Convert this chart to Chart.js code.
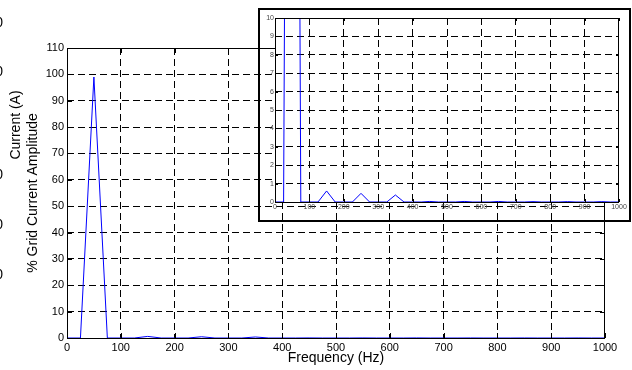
<!DOCTYPE html>
<html>
<head>
<meta charset="utf-8">
<script src="https://cdn.jsdelivr.net/npm/chart.js@4.4.0/dist/chart.umd.min.js"></script>
<style>
  body { margin: 0; background: #fff; }
  #wrap { position: relative; width: 632px; height: 370px; }
  #main { position: absolute; left: 0; top: 0; }
  #zoom { position: absolute; left: 258px; top: 8px; }
</style>
</head>
<body>
<div id="wrap">
  <canvas id="main" width="632" height="370"></canvas>
  <canvas id="zoom" width="373" height="214"></canvas>
</div>
<script>
// données du spectre (Hz / % du courant réseau)
const frequences = [
  0, 25, 50, 75, 100, 125, 150, 175, 200, 225,
  250, 275, 300, 325, 350, 375, 400, 425, 450, 475,
  500, 525, 550, 575, 600, 625, 650, 675, 700, 725,
  750, 775, 800, 825, 850, 875, 900, 925, 950, 975, 1000
];
const amplitudes = [
  0, 0, 99, 0, 0, 0, 0.6, 0, 0, 0,
  0.47, 0, 0, 0, 0.38, 0, 0, 0, 0.03, 0,
  0, 0, 0.03, 0, 0, 0, 0.03, 0, 0, 0,
  0.02, 0, 0, 0, 0.02, 0, 0, 0, 0.02, 0, 0
];
const ticksX = [0, 100, 200, 300, 400, 500, 600, 700, 800, 900, 1000];
const ticksY = [0, 10, 20, 30, 40, 50, 60, 70, 80, 90, 100, 110];
const ticksYZoom = [0, 1, 2, 3, 4, 5, 6, 7, 8, 9, 10];

// restes de la figure de derrière (coupés à gauche)
const titreCache = 'Current (A)';
const zerosCaches = [23, 72, 175, 225, 275];

const police = 'Liberation Sans, Arial, sans-serif';
Chart.defaults.font.family = police;
Chart.defaults.color = '#000';
Chart.defaults.animation = false;

const points = frequences.map((f, i) => ({ x: f, y: amplitudes[i] }));

function gridColor(min, max) {
  return ctx => (ctx.tick.value === min || ctx.tick.value === max) ? 'rgba(0,0,0,0)' : '#000';
}

// cadre + petites graduations vers l'intérieur, style matlab
function cadre(tickLen, fond) {
  return {
    id: 'cadre',
    beforeDraw(chart) {
      if (!fond) return;
      const a = chart.chartArea, c = chart.ctx;
      c.save();
      c.fillStyle = '#fff';
      c.fillRect(a.left, a.top, a.right - a.left, a.bottom - a.top);
      c.restore();
    },
    afterDraw(chart) {
      const a = chart.chartArea, c = chart.ctx;
      const sx = chart.scales.x, sy = chart.scales.y;
      c.save();
      c.strokeStyle = '#000';
      c.lineWidth = 1;
      c.strokeRect(a.left + 0.5, a.top + 0.5, a.right - a.left - 1, a.bottom - a.top);
      c.beginPath();
      sx.ticks.forEach(t => {
        const x = Math.round(sx.getPixelForValue(t.value)) + 0.5;
        c.moveTo(x, a.bottom); c.lineTo(x, a.bottom - tickLen);
        c.moveTo(x, a.top); c.lineTo(x, a.top + tickLen);
      });
      sy.ticks.forEach(t => {
        const y = Math.round(sy.getPixelForValue(t.value)) + 0.5;
        c.moveTo(a.left, y); c.lineTo(a.left + tickLen, y);
        c.moveTo(a.right, y); c.lineTo(a.right - tickLen, y);
      });
      c.stroke();
      c.restore();
    }
  };
}

const restes = {
  id: 'restes',
  afterDraw(chart) {
    const c = chart.ctx;
    c.save();
    c.fillStyle = '#000';
    c.font = '14px ' + police;
    c.textAlign = 'right';
    c.textBaseline = 'middle';
    zerosCaches.forEach(y => c.fillText('0', 3, y));
    c.translate(16, 125);
    c.rotate(-Math.PI / 2);
    c.textAlign = 'center';
    c.fillText(titreCache, 0, 0);
    c.restore();
  }
};

const simple = v => String(v);

// Graphique principal
new Chart(document.getElementById('main'), {
  type: 'line',
  data: {
    datasets: [{
      data: points,
      borderColor: '#0000ff',
      borderWidth: 1,
      pointRadius: 0,
      tension: 0
    }]
  },
  options: {
    responsive: false,
    devicePixelRatio: 1,
    layout: { padding: { left: 24, right: 27, top: 48, bottom: 0 } },
    plugins: { legend: { display: false }, tooltip: { enabled: false } },
    scales: {
      x: {
        type: 'linear', min: 0, max: 1000,
        afterBuildTicks: s => { s.ticks = ticksX.map(v => ({ value: v })); },
        afterFit: s => { s.height = 32; },
        border: { display: false, dash: [7, 4] },
        grid: { color: gridColor(0, 1000), lineWidth: 1, tickLength: 0 },
        ticks: { font: { size: 11 }, padding: 3, maxRotation: 0, autoSkip: false, callback: simple },
        title: { display: true, text: 'Frequency (Hz)', font: { size: 14 }, padding: { top: 0, bottom: 3 } }
      },
      y: {
        type: 'linear', min: 0, max: 110,
        afterBuildTicks: s => { s.ticks = ticksY.map(v => ({ value: v })); },
        afterFit: s => { s.width = 43; },
        border: { display: false, dash: [7, 4] },
        grid: { color: gridColor(0, 110), lineWidth: 1, tickLength: 0 },
        ticks: { font: { size: 11 }, padding: 3, autoSkip: false, callback: simple },
        title: { display: true, text: '% Grid Current Amplitude', font: { size: 14 }, padding: { top: 1, bottom: 0 } }
      }
    }
  },
  plugins: [cadre(5, false), restes]
});

// Zoom sur les harmoniques
new Chart(document.getElementById('zoom'), {
  type: 'line',
  data: {
    datasets: [{
      data: points,
      borderColor: '#0000ff',
      borderWidth: 1,
      pointRadius: 0,
      tension: 0
    }]
  },
  options: {
    responsive: false,
    devicePixelRatio: 1,
    layout: { padding: { left: 0, right: 12, top: 10, bottom: 0 } },
    plugins: { legend: { display: false }, tooltip: { enabled: false } },
    scales: {
      x: {
        type: 'linear', min: 0, max: 1000,
        afterBuildTicks: s => { s.ticks = ticksX.map(v => ({ value: v })); },
        afterFit: s => { s.height = 20; },
        border: { display: false, dash: [7, 4] },
        grid: { color: gridColor(0, 1000), lineWidth: 1, tickLength: 0 },
        ticks: { font: { size: 7 }, color: '#444', padding: 1, maxRotation: 0, autoSkip: false, callback: simple }
      },
      y: {
        type: 'linear', min: 0, max: 10,
        afterBuildTicks: s => { s.ticks = ticksYZoom.map(v => ({ value: v })); },
        afterFit: s => { s.width = 17; },
        border: { display: false, dash: [7, 4] },
        grid: { color: gridColor(0, 10), lineWidth: 1, tickLength: 0 },
        ticks: { font: { size: 7 }, color: '#444', padding: 1, autoSkip: false, callback: simple }
      }
    }
  },
  plugins: [cadre(3, true), {
    id: 'boite',
    afterDraw(chart) {
      const c = chart.ctx;
      c.save();
      c.strokeStyle = '#000';
      c.lineWidth = 2;
      c.strokeRect(1, 1, chart.width - 2, chart.height - 2);
      c.restore();
    }
  }]
});
</script>
</body>
</html>
